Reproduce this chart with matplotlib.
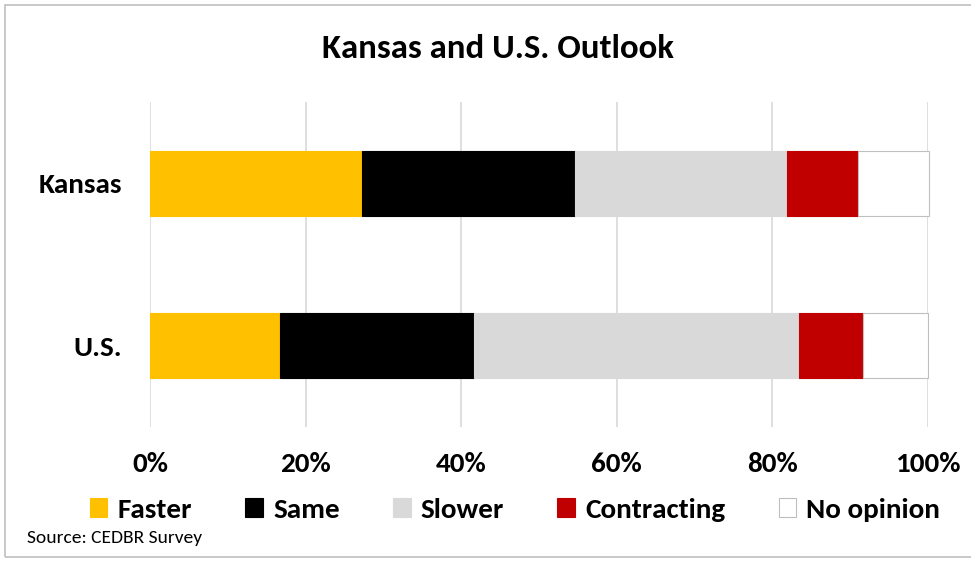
import matplotlib
matplotlib.use("Agg")
import matplotlib.pyplot as plt
from matplotlib.patches import Patch, Rectangle

plt.rcParams['font.family'] = ['Carlito', 'Liberation Sans Narrow', 'DejaVu Sans']

categories = ["Kansas", "U.S."]
series = ["Faster", "Same", "Slower", "Contracting", "No opinion"]
values = {
    "Faster": [27.3, 16.7],
    "Same": [27.3, 25.0],
    "Slower": [27.3, 41.7],
    "Contracting": [9.1, 8.3],
    "No opinion": [9.1, 8.3],
}
colors = ["#FFC000", "#000000", "#D9D9D9", "#C00000", "#FFFFFF"]
edges = ["#FFC000", "#000000", "#D9D9D9", "#C00000", "#BFBFBF"]
xticks = [0, 20, 40, 60, 80, 100]
xticklabels = ["0%", "20%", "40%", "60%", "80%", "100%"]

fig = plt.figure(figsize=(9.71, 5.62), dpi=100)
ax = fig.add_axes([150/971, 1-427/562, 778/971, 325/562])

ypos = list(range(len(categories)))
left = [0.0]*len(categories)
for s, c, e in zip(series, colors, edges):
    bars = ax.barh(ypos, values[s], left=left, height=0.4, color=c, edgecolor=e,
                   linewidth=0.8, zorder=3, label=s)
    for b in bars:
        b.set_clip_on(False)
    left = [l+v for l, v in zip(left, values[s])]

ax.set_xlim(0, 100)
ax.set_ylim(1.5, -0.5)
ax.set_xticks(xticks)
ax.set_xticklabels(xticklabels, fontsize=21, fontweight='bold')
ax.set_yticks(ypos)
ax.set_yticklabels(categories, fontsize=21, fontweight='bold')
ax.tick_params(axis='both', length=0)
ax.tick_params(axis='x', pad=18)
ax.tick_params(axis='y', pad=20)
ax.grid(axis='x', color='#D9D9D9', linewidth=1.2, zorder=0)
for sp in ax.spines.values():
    sp.set_visible(False)

fig.text(498/971, 1-48/562, "Kansas and U.S. Outlook", ha='center', va='center',
         fontsize=25, fontweight='bold')

handles = [Patch(facecolor=c, edgecolor=e, linewidth=0.8) for c, e in zip(colors, edges)]
leg = fig.legend(handles, series, loc='center', bbox_to_anchor=(515/971, 1-510/562),
                 ncol=5, frameon=False, handlelength=0.6, handleheight=0.6,
                 handletextpad=0.35, columnspacing=1.83,
                 prop={'size': 21, 'weight': 'bold'})

fig.text(27/971, 1-538/562, "Source: CEDBR Survey", ha='left', va='center', fontsize=14)

fig.patches.append(Rectangle((5/971, 5/562), 1.2, 1-10/562, transform=fig.transFigure,
                             fill=False, edgecolor='#BFBFBF', linewidth=1.2))

fig.savefig("out.png", dpi=100)
